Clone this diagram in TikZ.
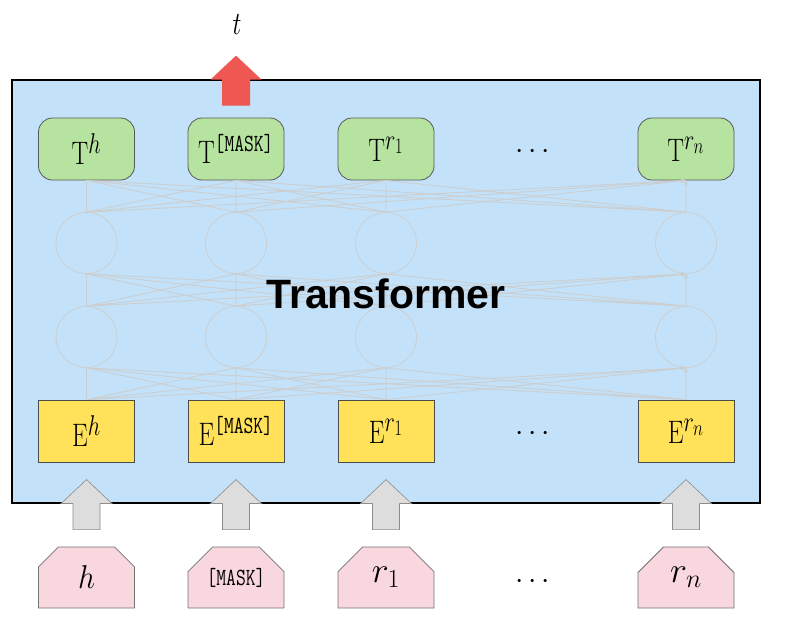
\RequirePackage{fix-cm}
\documentclass[tikz,border=0pt]{standalone}
\usepackage{amsmath}
\usepackage{fontspec}
\newfontfamily\headfont{Liberation Sans}
\usetikzlibrary{arrows.meta,shapes.misc}
\DeclareMathSizes{25}{25}{22}{17}
\DeclareMathSizes{30}{30}{22}{17}
\DeclareMathSizes{36}{36}{26}{20}
\newcommand{\vstretch}[2]{\scalebox{1}[#1]{#2}}
\newcommand{\masktag}{\text{\fontsize{19}{20}\selectfont\texttt{[MASK]}}}
\definecolor{layerblue}{HTML}{C3E1F8}
\definecolor{outgreen}{HTML}{B7E3A0}
\definecolor{embyellow}{HTML}{FFE15A}
\definecolor{tokpink}{HTML}{F8D7DF}
\definecolor{linkgray}{HTML}{CDCDCD}
\definecolor{feedgray}{HTML}{DDDDDD}
\definecolor{predred}{HTML}{EE5752}
\tikzset{
  label font/.style={font=\fontsize{25}{30}\selectfont},
  outbox/.style={draw=black!65, fill=outgreen, rounded corners=14pt,
    minimum width=96pt, minimum height=62pt, inner sep=0pt, line width=0.8pt, label font},
  embbox/.style={draw=black!70, fill=embyellow,
    minimum width=96pt, minimum height=62pt, inner sep=0pt, line width=0.8pt, label font},
  tokbox/.style={draw=black!55, fill=tokpink, chamfered rectangle,
    chamfered rectangle corners={north west,north east},
    chamfered rectangle sep=15pt,
    minimum width=96pt, minimum height=61pt, inner sep=0pt, line width=0.8pt,
    font=\fontsize{36}{42}\selectfont},
  unit/.style={circle, draw=linkgray, minimum size=61pt, inner sep=0pt, line width=0.7pt},
  link/.style={draw=linkgray, line width=0.8pt, -{Stealth[length=5pt,width=4pt]}},
  feed/.style={draw=black!45, fill=feedgray, line width=0.6pt},
  dotsmark/.style={font=\fontsize{30}{36}\selectfont, anchor=base},
}
\begin{document}
\begin{tikzpicture}[x=1pt,y=-1pt]
  \useasboundingbox (0,0) rectangle (786,622);
  \draw[line width=1.6pt, fill=layerblue] (12,80) rectangle (760,503);
  % output and embedding rows
  \draw
    (86.5,149) node[outbox] (th){\vstretch{1.3}{$\mathrm{T}^{h}$}}
    (236,149) node[outbox] (tm){\vstretch{1.3}{$\mathrm{T}^{\masktag}$}}
    (386,149) node[outbox] (tr1){\vstretch{1.3}{$\mathrm{T}^{r_1}$}}
    (686,149) node[outbox] (trn){\vstretch{1.3}{$\mathrm{T}^{r_n}$}}
    (86.5,431) node[embbox] (eh){\vstretch{1.3}{$\mathrm{E}^{h}$}}
    (236,431) node[embbox] (em){\vstretch{1.3}{$\mathrm{E}^{\masktag}$}}
    (386,431) node[embbox] (er1){\vstretch{1.3}{$\mathrm{E}^{r_1}$}}
    (686,431) node[embbox] (ern){\vstretch{1.3}{$\mathrm{E}^{r_n}$}};
  % hidden units
  \draw
    (86.5,337) node[unit] (ah){}
    (236,337) node[unit] (am){}
    (386,337) node[unit] (ar1){}
    (686,337) node[unit] (arn){}
    (86.5,243) node[unit] (bh){}
    (236,243) node[unit] (bm){}
    (386,243) node[unit] (br1){}
    (686,243) node[unit] (brn){};
  \begin{scope}[link]
    \draw (eh.north) to (ah.south) (eh.north) to (am.south) (eh.north) to (ar1.south) (eh.north) to (arn.south);
    \draw (em.north) to (ah.south) (em.north) to (am.south) (em.north) to (ar1.south) (em.north) to (arn.south);
    \draw (er1.north) to (ah.south) (er1.north) to (am.south) (er1.north) to (ar1.south) (er1.north) to (arn.south);
    \draw (ern.north) to (ah.south) (ern.north) to (am.south) (ern.north) to (ar1.south) (ern.north) to (arn.south);
    \draw (ah.north) to (bh.south) (ah.north) to (bm.south) (ah.north) to (br1.south) (ah.north) to (brn.south);
    \draw (am.north) to (bh.south) (am.north) to (bm.south) (am.north) to (br1.south) (am.north) to (brn.south);
    \draw (ar1.north) to (bh.south) (ar1.north) to (bm.south) (ar1.north) to (br1.south) (ar1.north) to (brn.south);
    \draw (arn.north) to (bh.south) (arn.north) to (bm.south) (arn.north) to (br1.south) (arn.north) to (brn.south);
    \draw (bh.north) to (th.south) (bh.north) to (tm.south) (bh.north) to (tr1.south) (bh.north) to (trn.south);
    \draw (bm.north) to (th.south) (bm.north) to (tm.south) (bm.north) to (tr1.south) (bm.north) to (trn.south);
    \draw (br1.north) to (th.south) (br1.north) to (tm.south) (br1.north) to (tr1.south) (br1.north) to (trn.south);
    \draw (brn.north) to (th.south) (brn.north) to (tm.south) (brn.north) to (tr1.south) (brn.north) to (trn.south);
  \end{scope}
  \node[font=\headfont\bfseries\fontsize{41}{48}\selectfont, anchor=base] (title) at (386,308) {Transformer};
  % input tokens
  \draw
    (86.5,577.5) node[tokbox, font=\fontsize{30}{36}\selectfont] (ih){\vstretch{1.1}{$h$}}
    (236,577.5) node[tokbox, font=\fontsize{19}{22}\selectfont] (im){\vstretch{1.3}{\texttt{[MASK]}}}
    (386,577.5) node[tokbox] (ir1){$r_1$}
    (686,577.5) node[tokbox] (irn){$r_n$};
  \node[dotsmark] (dt) at (535,158) {$\cdots$};
  \node[dotsmark] (de) at (535,440) {$\cdots$};
  \node[dotsmark] (di) at (535,588) {$\cdots$};
  % block arrows
  \foreach \tok in {ih,im,ir1,irn}
    \draw[feed, shift={(\tok.north)}] (-13.5,-17) -- (13.5,-17) -- (13.5,-43) -- (25.5,-43)
      -- (0,-67) -- (-25.5,-43) -- (-13.5,-43) -- cycle;
  \fill[predred, shift={(tm.north)}] (-14,-12) -- (14,-12) -- (14,-38) -- (25.5,-38)
    -- (0,-62) -- (-25.5,-38) -- (-14,-38) -- cycle;
  \node[label font, anchor=base] (target) at (237,34) {\vstretch{1.3}{$t$}};
\end{tikzpicture}
\end{document}
